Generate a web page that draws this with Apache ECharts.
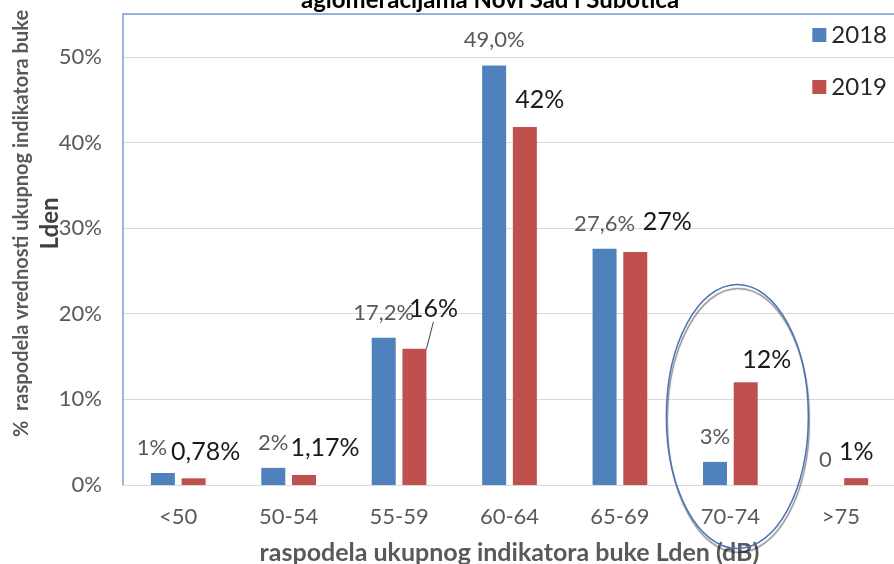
<!DOCTYPE html>
<html>
<head>
<meta charset="utf-8">
<title>raspodela buke Lden</title>
<script src="https://cdn.jsdelivr.net/npm/echarts@6.0.0/dist/echarts.min.js"></script>
<style>
  html, body { margin: 0; padding: 0; background: #fff; }
</style>
</head>
<body>
<div id="main" style="width: 894px; height: 564px"></div>
<script>
// kategorije (dB)
var categories = ['<50', '50-54', '55-59', '60-64', '65-69', '70-74', '>75'];
// vrednosti u %
var values2018 = [1.4, 2.0, 17.2, 49.0, 27.6, 2.7, 0];
var values2019 = [0.78, 1.17, 15.9, 41.8, 27.2, 12.0, 0.8];
// tekst oznaka iznad stubova
var labels2018 = ['1%', '2%', '17,2%', '49,0%', '27,6%', '3%', '0'];
var labels2019 = ['0,78%', '1,17%', '16%', '42%', '27%', '12%', '1%'];

// rucno pomerene oznake (kao u Excel-u) [dx, dy]
var shift2018 = [[-11, 0], [0, 0], [0, 0], [0, 0], [0, 0], [0, 0], [0, 0]];
var shift2019 = [[12, 0], [21, -1], [19, -13], [15, -1], [32, -4], [21, 4], [0, 0]];

var FONT = 'Lato';
var chartDom = document.getElementById('main');
var myChart = echarts.init(chartDom);

var option = {
  animation: false,
  textStyle: { fontFamily: FONT },
  title: {
    text: 'aglomeracijama Novi Sad i Subotica',
    left: 296,
    top: -17,
    textStyle: { fontFamily: FONT, fontSize: 24, fontWeight: 'bold', color: '#000' }
  },
  legend: {
    orient: 'vertical',
    right: 2,
    top: 18,
    itemWidth: 14,
    itemHeight: 14,
    itemGap: 28,
    icon: 'rect',
    textStyle: { fontFamily: FONT, fontSize: 24, color: '#262626' },
    data: ['2018', '2019']
  },
  grid: { left: 123, right: -2, top: 14, bottom: 79, outerBoundsMode: 'none' },
  xAxis: [{
    type: 'category',
    data: categories,
    axisTick: { show: false },
    axisLine: { lineStyle: { color: '#d9d9d9', width: 1 } },
    axisLabel: { margin: 21, fontFamily: FONT, fontSize: 22, color: '#595959' },
    name: 'raspodela ukupnog indikatora buke Lden (dB)',
    nameLocation: 'middle',
    nameGap: 55,
    nameMoveOverlap: false,
    nameTextStyle: { fontFamily: FONT, fontSize: 25, fontWeight: 'bold', color: '#595959' }
  }, {
    // gornja ivica okvira
    type: 'category',
    position: 'top',
    data: categories,
    axisTick: { show: false },
    axisLabel: { show: false },
    axisLine: { lineStyle: { color: '#7aa0d8', width: 1.5 } }
  }],
  yAxis: {
    type: 'value',
    min: 0,
    max: 55,
    interval: 10,
    axisLine: { show: true, lineStyle: { color: '#7aa0d8', width: 1.5 } },
    axisTick: { show: false },
    splitLine: { lineStyle: { color: '#d9d9d9' } },
    axisLabel: {
      margin: 21,
      fontFamily: FONT,
      fontSize: 22,
      color: '#595959',
      formatter: function (v) { return v > 50 ? '' : v + '%'; }
    },
    name: '{a|%  raspodela vrednosti ukupnog indikatora buke}\n{b|Lden}',
    nameLocation: 'middle',
    nameRotate: 90,
    nameGap: 58,
    nameMoveOverlap: false,
    nameTextStyle: {
      padding: [0, 0, 0, 52],
      lineHeight: 29,
      rich: {
        a: { fontFamily: FONT, fontSize: 20, fontWeight: 'bold', color: '#595959', lineHeight: 29 },
        b: { fontFamily: FONT, fontSize: 24, fontWeight: 'bold', color: '#404040', lineHeight: 29 }
      }
    }
  },
  series: [{
    name: '2018',
    type: 'bar',
    data: values2018,
    barWidth: 24,
    barGap: '28%',
    itemStyle: { color: '#4f81bd' },
    label: {
      show: true,
      position: 'top',
      distance: 14,
      fontFamily: FONT,
      fontSize: 22,
      color: '#595959',
      formatter: function (p) { return labels2018[p.dataIndex]; }
    },
    labelLayout: function (p) {
      return { dx: shift2018[p.dataIndex][0], dy: shift2018[p.dataIndex][1] };
    }
  }, {
    name: '2019',
    type: 'bar',
    data: values2019.map(function (v, i) {
      // samo oznaka 16% ima liniju do stuba
      return i === 2 ? { value: v, labelLine: { show: true, lineStyle: { color: '#404040', width: 1 } } } : v;
    }),
    barWidth: 24,
    itemStyle: { color: '#c0504d' },
    label: {
      show: true,
      position: 'top',
      distance: 14,
      fontFamily: FONT,
      fontSize: 25,
      color: '#1a1a1a',
      formatter: function (p) { return labels2019[p.dataIndex]; }
    },
    labelLayout: function (p) {
      return { dx: shift2019[p.dataIndex][0], dy: shift2019[p.dataIndex][1] };
    }
  }]
};

option && myChart.setOption(option);

// elipsa oko kategorije 70-74
var c = myChart.convertToPixel({ gridIndex: 0 }, ['70-74', 8]);
myChart.setOption({
  graphic: [{
    type: 'ellipse',
    shape: { cx: c[0] + 7, cy: c[1], rx: 71, ry: 132 },
    style: {
      fill: 'none',
      stroke: '#4a74b5',
      lineWidth: 1.5,
      shadowColor: 'rgba(0,0,0,0.45)',
      shadowBlur: 1,
      shadowOffsetX: 1,
      shadowOffsetY: 4
    },
    z: 100
  }]
});
</script>
</body>
</html>
